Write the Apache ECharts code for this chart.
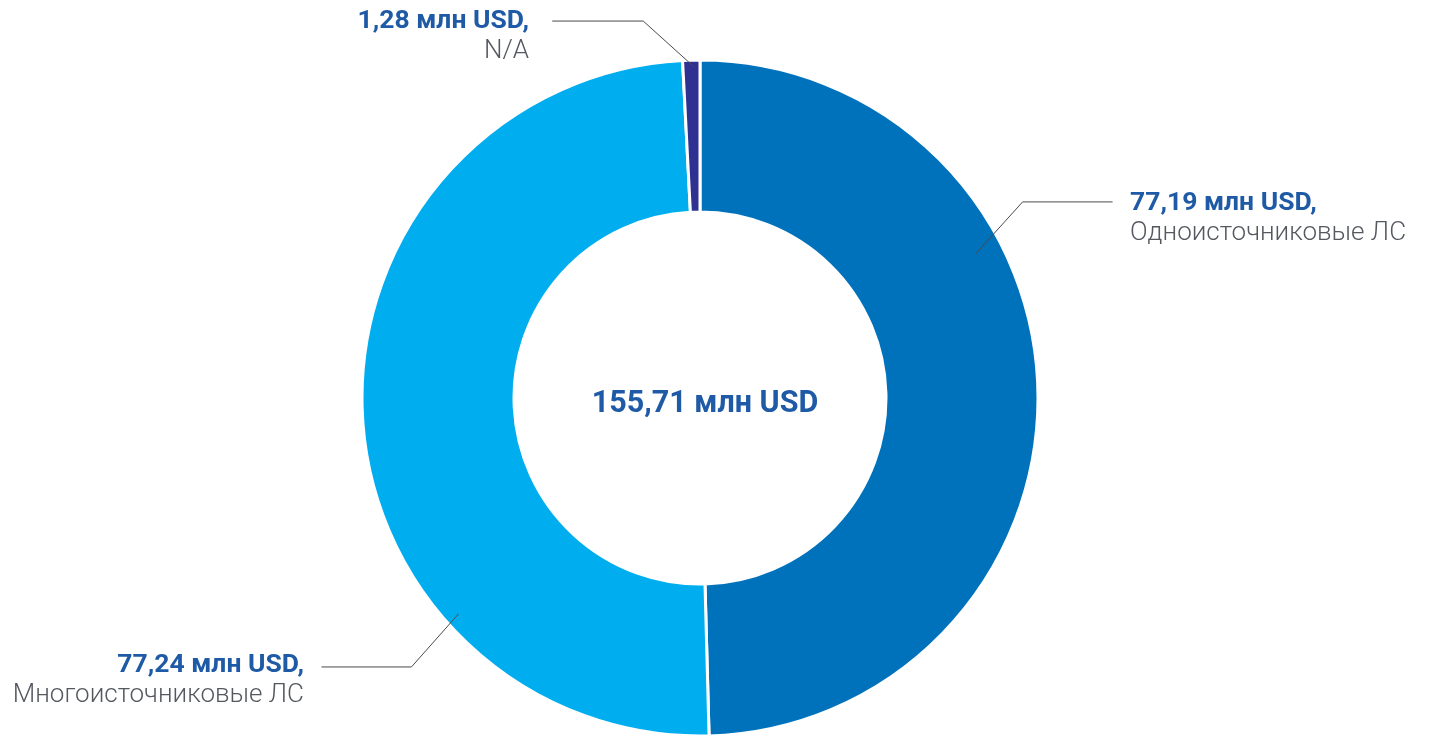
<!DOCTYPE html>
<html>
<head>
<meta charset="utf-8">
<style>
  html, body { margin: 0; padding: 0; background: #ffffff; }
  #chart { width: 1432px; height: 735px; }
</style>
<script src="https://cdn.jsdelivr.net/npm/echarts@6/dist/echarts.min.js"></script>
</head>
<body>
<div id="chart"></div>
<script>
// ---- Data ----
const categories = ['Одноисточниковые ЛС', 'Многоисточниковые ЛС', 'N/A'];
const values = [77.19, 77.24, 1.28];
const valueLabels = ['77,19 млн USD,', '77,24 млн USD,', '1,28 млн USD,'];
const totalLabel = '155,71 млн USD';

// ---- Layout / style ----
const CENTER = [700, 398];
const R_IN = 186, R_OUT = 338;
const colors = ['#0072bc', '#00aeef', '#2e3192'];
const FONT = 'Roboto, "Noto Sans", sans-serif';
// label anchor: start angle (deg clockwise from top) and radius, elbow offset, horizontal length, text placement
const labelGeo = [
  { ang: 62.4, r: 311, ex: 47, ey: -52, hx: 90, tx: 1130, ty: 218, align: 'left' },
  { ang: 228.2, r: 324, ex: -47, ey: 53, hx: -90, tx: 304, ty: 680, align: 'right' },
  { ang: 359.0, r: 331, ex: -51, ey: -46, hx: -91, tx: 529, ty: 36, align: 'right' }
];

function polar(angDeg, r) {
  const a = angDeg * Math.PI / 180;
  return [CENTER[0] + r * Math.sin(a), CENTER[1] - r * Math.cos(a)];
}

const pieData = categories.map((c, i) => ({ name: c, value: values[i] }));

const chart = echarts.init(document.getElementById('chart'));
chart.setOption({
  backgroundColor: '#ffffff',
  animation: false,
  graphic: [{
    type: 'text',
    x: 705, y: 404,
    style: {
      text: totalLabel,
      font: 'bold 30.5px ' + FONT,
      fill: '#1f5aa6',
      align: 'center',
      verticalAlign: 'middle'
    }
  }],
  series: [{
    type: 'pie',
    z: 2,
    center: CENTER,
    radius: [R_IN, R_OUT],
    startAngle: 90,
    clockwise: true,
    silent: true,
    itemStyle: { borderColor: '#ffffff', borderWidth: 3 },
    data: pieData.map((d, i) => ({ ...d, itemStyle: { color: colors[i] } })),
    label: { show: false },
    labelLine: { show: false }
  }, {
    type: 'pie',
    z: 5,
    center: CENTER,
    radius: [R_IN, R_OUT],
    startAngle: 90,
    clockwise: true,
    silent: true,
    itemStyle: { color: 'rgba(0,0,0,0)', borderWidth: 0 },
    data: pieData,
    label: {
      show: true,
      formatter: p => '{v|' + valueLabels[p.dataIndex] + '}\n{n|' + p.name + '}',
      rich: {
        v: { fontFamily: FONT, fontWeight: 'bold', fontSize: 26.5, color: '#1f5aa6', lineHeight: 30 },
        n: { fontFamily: FONT, fontWeight: 300, fontSize: 26, color: '#55595f', lineHeight: 30 }
      }
    },
    labelLine: {
      show: true,
      lineStyle: { color: '#4a4a4a', width: 1 }
    },
    labelLayout: function (params) {
      const g = labelGeo[params.dataIndex];
      const p0 = polar(g.ang, g.r);
      const p1 = [p0[0] + g.ex, p0[1] + g.ey];
      const p2 = [p1[0] + g.hx, p1[1]];
      return {
        x: g.tx, y: g.ty,
        align: g.align,
        verticalAlign: 'middle',
        labelLinePoints: [p0, p1, p2]
      };
    }
  }]
});
</script>
</body>
</html>
